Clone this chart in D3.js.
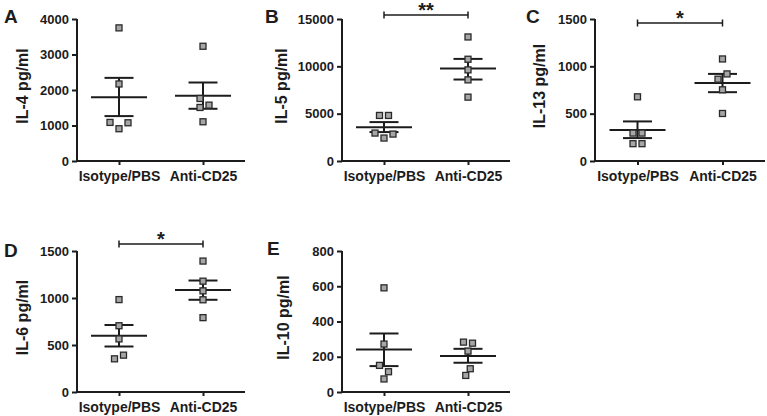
<!DOCTYPE html>
<html><head><meta charset="utf-8">
<script src="https://cdn.jsdelivr.net/npm/d3@7"></script>
<style>
html,body{margin:0;padding:0;background:#fff;}
svg{display:block;font-family:"Liberation Sans",Arial,sans-serif;}
</style></head>
<body><svg id="c" width="767" height="416"></svg>
<script>
// ---- data ----
const categories = ["Isotype/PBS", "Anti-CD25"];
const panelLetters = ["A", "B", "C", "D", "E"];
const yLabels = ["IL-4 pg/ml", "IL-5 pg/ml", "IL-13 pg/ml", "IL-6 pg/ml", "IL-10 pg/ml"];
const yMax = [4000, 15000, 1500, 1500, 800];
const yTicksA = [0, 1000, 2000, 3000, 4000];
const yTicksB = [0, 5000, 10000, 15000];
const yTicksC = [0, 500, 1000, 1500];
const yTicksD = [0, 500, 1000, 1500];
const yTicksE = [0, 200, 400, 600, 800];
// individual values per group
const il4Iso = [3750, 2170, 1087, 1077, 909];
const il4Anti = [3232, 1761, 1574, 1508, 1105];
const il4Sem = [[1265, 2342], [1471, 2211]];
const il5Iso = [4813, 4813, 2951, 2845, 2424];
const il5Anti = [13103, 10749, 9625, 8571, 6745];
const il5Sem = [[3056, 4110], [8607, 10785]];
const il13Iso = [678, 295, 295, 183, 183];
const il13Anti = [1078, 920, 864, 752, 502];
const il13Sem = [[242, 418], [727, 920]];
const il6Iso = [983, 705, 565, 392, 353];
const il6Anti = [1393, 1179, 1076, 981, 791];
const il6Sem = [[484, 713], [981, 1186]];
const il10Iso = [591, 272, 151, 115, 74];
const il10Anti = [283, 277, 232, 132, 94];
const il10Sem = [[147, 332], [166, 245]];
const significance = [null, "**", "*", "*", null];

// ---- layout ----
const geom = [
  {x0: 77, x1: 245, top: 19, bot: 161, letterX: 4, letterY: 23, labX: 28},
  {x0: 342, x1: 510, top: 19, bot: 161, letterX: 265, letterY: 23, labX: 287, bracketY: 15},
  {x0: 595, x1: 765, top: 19, bot: 161, letterX: 526, letterY: 23, labX: 545, bracketY: 23},
  {x0: 77, x1: 245, top: 251, bot: 392, letterX: 4, letterY: 257, labX: 28, bracketY: 244},
  {x0: 342, x1: 510, top: 251, bot: 392, letterX: 267, letterY: 255, labX: 289}
];
const panels = [
  {ticks: yTicksA, groups: [il4Iso, il4Anti], sem: il4Sem},
  {ticks: yTicksB, groups: [il5Iso, il5Anti], sem: il5Sem},
  {ticks: yTicksC, groups: [il13Iso, il13Anti], sem: il13Sem},
  {ticks: yTicksD, groups: [il6Iso, il6Anti], sem: il6Sem},
  {ticks: yTicksE, groups: [il10Iso, il10Anti], sem: il10Sem}
];

const svg = d3.select("#c");
const ink = "#1c1c1c";

function dodge(vals, y) {
  // simple beeswarm, bottom-up, then centre each touching cluster
  const pts = vals.map(v => ({v, py: y(v), dx: 0})).sort((a, b) => a.v - b.v);
  const D = 8, s = 4.5;
  const placed = [];
  pts.forEach(p => {
    const cands = [0];
    for (let k = 1; k < 6; k++) { cands.push(k * s, -k * s); }
    for (const c of cands) {
      if (placed.every(q => Math.hypot(q.dx - c, q.py - p.py) >= D)) { p.dx = c; break; }
    }
    placed.push(p);
  });
  let cl = [[pts[0]]];
  for (let i = 1; i < pts.length; i++) {
    if (Math.abs(pts[i].py - pts[i - 1].py) < D) cl[cl.length - 1].push(pts[i]);
    else cl.push([pts[i]]);
  }
  cl.forEach(c => { const m = d3.mean(c, p => p.dx); c.forEach(p => p.dx -= m); });
  return pts;
}

panels.forEach((p, i) => {
  const g = geom[i];
  const y = d3.scaleLinear().domain([0, yMax[i]]).range([g.bot, g.top]);
  const x = d3.scalePoint().domain(categories).range([g.x0, g.x1]).padding(0.5);
  const G = svg.append("g");

  const ya = G.append("g").attr("transform", `translate(${g.x0},0)`)
    .call(d3.axisLeft(y).tickValues(p.ticks).tickSize(5).tickPadding(3).tickFormat(d3.format("d")));
  ya.select(".domain").attr("d", `M0,${g.bot}V${g.top}`);
  const xa = G.append("g").attr("transform", `translate(0,${g.bot})`)
    .call(d3.axisBottom(x).tickSize(4).tickPadding(6));
  xa.select(".domain").attr("d", `M${g.x0},0H${g.x1}`);
  [ya, xa].forEach(a => {
    a.selectAll(".domain, .tick line").attr("stroke", ink).attr("stroke-width", 2);
    a.selectAll("text").attr("fill", ink).attr("font-weight", "bold")
      .attr("font-family", "'Liberation Sans', Arial, sans-serif");
  });
  ya.selectAll("text").attr("font-size", 13);
  xa.selectAll("text").attr("font-size", 14);

  // y label (baseline on the right side after rotation)
  G.append("text")
    .attr("transform", `translate(${g.labX},${(g.top + g.bot) / 2 - 4}) rotate(-90)`)
    .attr("text-anchor", "middle")
    .attr("font-size", 16).attr("font-weight", "bold").attr("fill", ink)
    .text(yLabels[i]);

  G.append("text").attr("x", g.letterX).attr("y", g.letterY)
    .attr("font-size", 19).attr("font-weight", "bold").attr("fill", ink)
    .text(panelLetters[i]);

  p.groups.forEach((vals, k) => {
    const cx = x(categories[k]);
    const mean = d3.mean(vals);
    const [lo, hi] = p.sem[k];
    const L = G.append("g").attr("stroke", ink).attr("stroke-width", 2);
    L.append("line").attr("x1", cx - 28).attr("x2", cx + 28).attr("y1", y(mean)).attr("y2", y(mean));
    L.append("line").attr("x1", cx).attr("x2", cx).attr("y1", y(lo)).attr("y2", y(hi));
    [lo, hi].forEach(v => L.append("line").attr("x1", cx - 14.5).attr("x2", cx + 14.5)
      .attr("y1", y(v)).attr("y2", y(v)));
    const pts = dodge(vals, y);
    G.selectAll(null).data(pts).join("rect")
      .attr("x", d => cx + d.dx - 3).attr("y", d => d.py - 3)
      .attr("width", 6).attr("height", 6)
      .attr("fill", "#a6a6a6").attr("stroke", "#2a2a2a").attr("stroke-width", 1.3);
  });

  if (significance[i]) {
    const xa1 = x(categories[0]), xa2 = x(categories[1]), by = g.bracketY;
    const B = G.append("g").attr("stroke", ink).attr("stroke-width", 1.5);
    B.append("line").attr("x1", xa1).attr("x2", xa2).attr("y1", by).attr("y2", by);
    [xa1, xa2].forEach(xx => B.append("line").attr("x1", xx).attr("x2", xx).attr("y1", by - 3.5).attr("y2", by + 3.5));
    G.append("text").attr("x", (xa1 + xa2) / 2).attr("y", by + 2)
      .attr("text-anchor", "middle").attr("font-size", 20).attr("font-weight", "bold")
      .attr("fill", ink).text(significance[i]);
  }
});
</script>
</body></html>
